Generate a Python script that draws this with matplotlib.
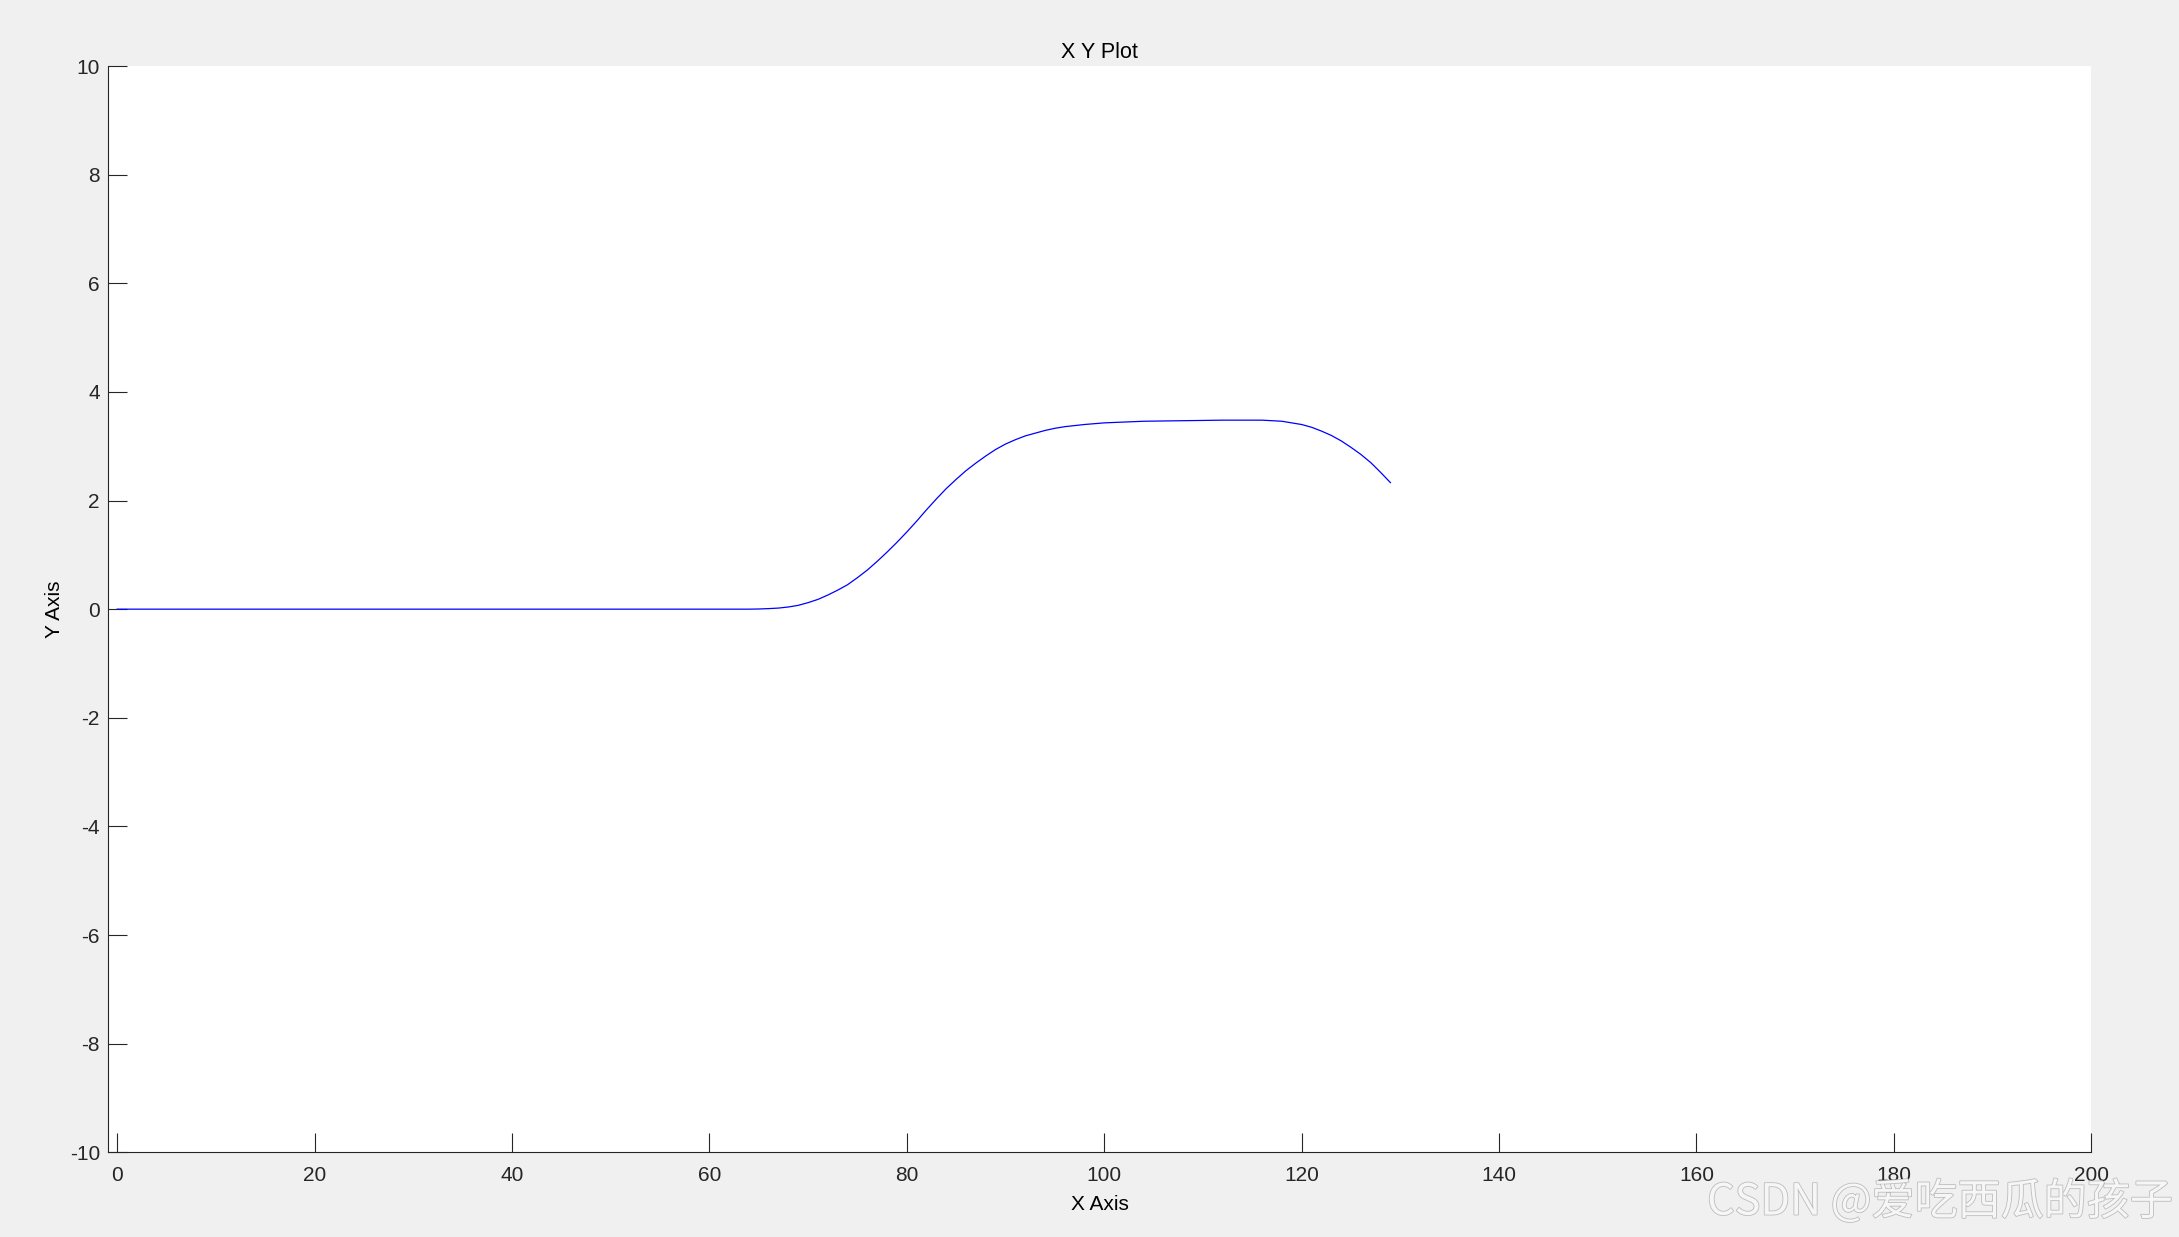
import matplotlib
matplotlib.use("Agg")
import matplotlib.pyplot as plt
import matplotlib.patheffects as pe

# values
x_vals = [0, 10, 20, 30, 40, 50, 60, 64, 65, 66, 67, 68, 69, 70, 71, 72, 73, 74, 75, 76,
          77, 78, 79, 80, 81, 82, 83, 84, 85, 86, 87, 88, 89, 90, 91, 92, 93, 94, 95, 96,
          98, 100, 102, 104, 108, 112, 115, 116, 117, 118, 119, 120, 121, 122, 123, 124,
          125, 126, 127, 128, 129]
y_vals = [0, 0, 0, 0, 0, 0, 0, 0, 0.003, 0.01, 0.02, 0.04, 0.07, 0.12, 0.18, 0.26, 0.35, 0.45, 0.58, 0.72,
          0.88, 1.05, 1.23, 1.42, 1.62, 1.83, 2.03, 2.22, 2.39, 2.55, 2.69, 2.82, 2.94, 3.04, 3.12, 3.19, 3.24, 3.29, 3.33, 3.36,
          3.40, 3.43, 3.445, 3.46, 3.47, 3.48, 3.48, 3.48, 3.47, 3.46, 3.43, 3.40, 3.35, 3.28, 3.20, 3.10,
          2.98, 2.85, 2.70, 2.52, 2.33]

x_ticks = [0, 20, 40, 60, 80, 100, 120, 140, 160, 180, 200]
y_ticks = [-10, -8, -6, -4, -2, 0, 2, 4, 6, 8, 10]

plt.rcParams["font.family"] = ["Liberation Sans", "DejaVu Sans"]
plt.rcParams["axes.unicode_minus"] = False
text_color = "#262626"

fig = plt.figure(figsize=(21.79, 12.37), dpi=100, facecolor="#f0f0f0")
ax = fig.add_axes([0.0497, 0.0685, 0.9100, 0.8781])
ax.set_facecolor("white")

ax.plot(x_vals, y_vals, color="#0000ff", linewidth=0.9)

ax.set_xlim(-0.9, 200)
ax.set_ylim(-10, 10)
ax.set_xticks(x_ticks)
ax.set_yticks(y_ticks)

for side in ["top", "right"]:
    ax.spines[side].set_visible(False)
for side in ["left", "bottom"]:
    ax.spines[side].set_color(text_color)
    ax.spines[side].set_linewidth(0.8)

ax.tick_params(axis="both", direction="in", length=13.5, width=0.8,
               colors=text_color, labelsize=15)
ax.tick_params(axis="x", pad=10)
ax.tick_params(axis="y", pad=6)

ax.set_title("X Y Plot", fontsize=15.5, color="black", pad=6)
ax.set_xlabel("X Axis", fontsize=15, color="black", labelpad=7)
ax.set_ylabel("Y Axis", fontsize=15, color="black", labelpad=4)

# watermark
fig.text(0.997, 0.010, "CSDN @爱吃西瓜的孩子", ha="right", va="bottom",
         fontsize=31, color="#f6f6f6",
         family=["Noto Sans CJK SC", "DejaVu Sans"],
         path_effects=[pe.withStroke(linewidth=1.2, foreground="#bdbdbd")])

fig.savefig("out.png", dpi=100, facecolor=fig.get_facecolor())
